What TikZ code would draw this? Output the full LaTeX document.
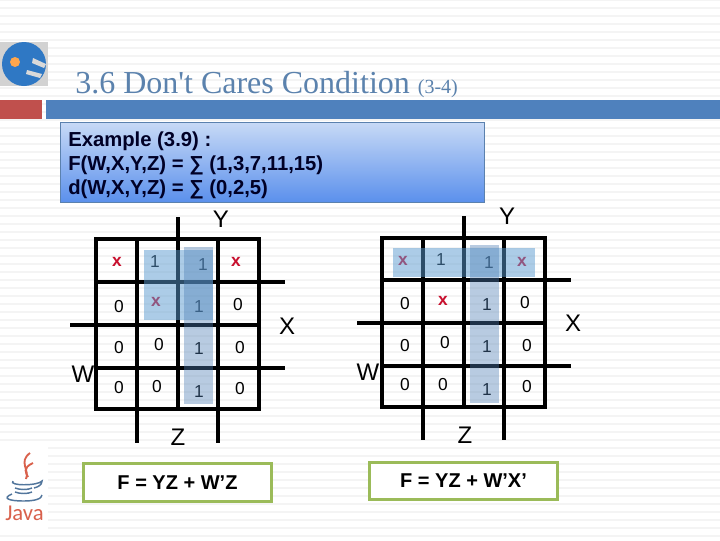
\documentclass[tikz,border=0pt]{standalone}
\usepackage{fontspec}
\setmainfont{Liberation Sans}
\newfontfamily\titlefont{Liberation Serif}
\newfontfamily\javafont{Carlito}
\usetikzlibrary{
  positioning,
  calc,
  shadings
}
\definecolor{barblue}{HTML}{4F81BD}
\definecolor{barred}{HTML}{C0504D}
\definecolor{titleblue}{HTML}{5B82AD}
\definecolor{stripe}{HTML}{F4F4F4}
\definecolor{boxgreen}{HTML}{9BBB59}
\definecolor{boxtop}{HTML}{C8DAF6}
\definecolor{boxbottom}{HTML}{5B90EC}
\definecolor{rowblue}{HTML}{5B9BD0}
\definecolor{colblue}{HTML}{4F7FB5}
\definecolor{dontred}{HTML}{C8102E}
\definecolor{javared}{HTML}{D9614C}
\definecolor{javablue}{HTML}{52769C}
\definecolor{globeblue}{HTML}{2F78C4}

\begin{document}
\begin{tikzpicture}[
      x=0.75pt, y=-0.75pt,
      kline/.style={line width=2.3pt, black},
      cell/.style={font=\fontsize{13}{14}\selectfont, inner sep=0pt},
      dontcare/.style={font=\fontsize{13}{14}\selectfont\bfseries, text=dontred, inner sep=0pt},
      varname/.style={font=\fontsize{18}{20}\selectfont, inner sep=0pt},
      result/.style={draw=boxgreen, fill=white, line width=2.3pt, inner sep=0pt,
                     font=\fontsize{15}{17}\selectfont\bfseries},
      rowloop/.style={fill=rowblue, fill opacity=0.5},
      colloop/.style={fill=colblue, fill opacity=0.4},
      javaline/.style={javablue, line width=1.1pt},
      steam/.style={javared, line width=1.4pt}
  ]
      \useasboundingbox (0,0) rectangle (720,540);
      \fill[white] (0,0) rectangle (720,540);

      % Stripes of the slide
      \foreach \y in {-1,7,...,535}
        \fill[stripe] (0,\y) rectangle (720,\y+2);

      % Header
      \fill[barred]  (0,100)  rectangle (42,119);
      \fill[barblue] (46,100) rectangle (720,119);
      \node[font=\titlefont\fontsize{24}{28}\selectfont, text=titleblue, anchor=base west, inner sep=0pt]
            (title) at (75,93) {3.6 Don't Cares Condition {\fontsize{15}{17}\selectfont (3-4)}};

      % Globe
      \fill[gray!35] (0,42) rectangle (48,86);
      \fill[globeblue] (24,64) circle [radius=22];
      \fill[orange!70] (15,62) circle [radius=5];
      \fill[white!85!black] (33,58) -- (46,64) -- (44,68) -- (32,63) -- cycle;
      \fill[white!85!black] (27,70) -- (42,74) -- (40,78) -- (26,74) -- cycle;

      % Example
      \shade[top color=boxtop, bottom color=boxbottom] (60,122) rectangle (484,202);
      \draw[barblue!75!gray, line width=0.6pt] (60,122) rectangle (484,202);
      \node[font=\fontsize{15.2}{18}\selectfont\bfseries, text=black!85!blue, align=left, anchor=north west, inner sep=0pt]
            (example) at (68,132) {Example (3.9) :\\F(W,X,Y,Z) = ∑ (1,3,7,11,15)\\d(W,X,Y,Z) = ∑ (0,2,5)};

      % First map
      \draw[kline] (96,239) rectangle (259,409);
      \draw[kline] (137,239) -- (137,443);
      \draw[kline] (178,217) -- (178,409);
      \draw[kline] (218,239) -- (218,443);
      \draw[kline] (96,282) -- (285,282);
      \draw[kline] (70,325) -- (259,325);
      \draw[kline] (96,368) -- (285,368);

      \foreach \x/\y/\val [count=\i] in {
          155/262/1, 203/265/1,
          119/307/0, 199/307/1, 238/305/0,
          119/348/0, 159/345/0, 199/349/1, 240/348/0,
          119/388/0, 157/387/0, 199/392/1, 240/389/0}
        \node[cell] (a\i) at (\x,\y) {\val};
      \foreach \x/\y [count=\i] in {117/262, 156/302, 236/262}
        \node[dontcare] (ax\i) at (\x,\y) {x};

      \node[varname] (aY) at (221,219) {Y};
      \node[varname] (aX) at (287,326) {X};
      \node[varname] (aW) at (83,374)  {W};
      \node[varname] (aZ) at (178,437) {Z};

      \fill[rowloop] (144,250) rectangle (213,320);
      \fill[colloop] (184,247) rectangle (213,404);

      % Second map
      \draw[kline] (382,238) rectangle (545,407);
      \draw[kline] (423,238) -- (423,440);
      \draw[kline] (464,216) -- (464,407);
      \draw[kline] (504,238) -- (504,440);
      \draw[kline] (382,280) -- (571,280);
      \draw[kline] (357,323) -- (545,323);
      \draw[kline] (382,366) -- (571,366);

      \foreach \x/\y/\val [count=\i] in {
          441/260/1, 489/263/1,
          405/304/0, 487/305/1, 525/303/0,
          405/346/0, 445/343/0, 487/347/1, 527/346/0,
          405/385/0, 443/385/0, 487/390/1, 527/387/0}
        \node[cell] (b\i) at (\x,\y) {\val};
      \foreach \x/\y [count=\i] in {403/261, 443/301, 522/262}
        \node[dontcare] (bx\i) at (\x,\y) {x};

      \node[varname] (bY) at (507,216) {Y};
      \node[varname] (bX) at (573,323) {X};
      \node[varname] (bW) at (368,372) {W};
      \node[varname] (bZ) at (465,435) {Z};

      \fill[rowloop] (393,248) rectangle (535,277);
      \fill[colloop] (470,245) rectangle (499,403);

      % Results
      \node[result, minimum width=141.5pt, minimum height=29pt] (resa) at (177.5,482.5) {F = YZ + W’Z};
      \node[result, minimum width=141.5pt, minimum height=28pt] (resb) at (463.5,481)   {F = YZ + W’X’};

      % Java logo
      \fill[white] (0,447) rectangle (48,530);
      \draw[steam] (30,453) .. controls (18,462) and (30,470) .. (26,479);
      \draw[steam] (33,463) .. controls (22,468) and (26,473) .. (28,477);
      \draw[javaline] (13,481) .. controls (8,486) and (38,486) .. (42,481) .. controls (42,485) and (38,487) .. (34,488);
      \draw[javaline] (15,488) .. controls (20,490) and (28,490) .. (32,488);
      \draw[javaline] (15,492) .. controls (20,494) and (28,494) .. (32,492);
      \draw[javaline] (12,494) .. controls (2,498) and (8,501) .. (24,501) .. controls (34,501) and (42,499) .. (42,495);
      \node[font=\javafont\fontsize{17}{18}\selectfont, text=javared, inner sep=0pt] (java) at (24.5,513) {Java};
  \end{tikzpicture}
\end{document}
